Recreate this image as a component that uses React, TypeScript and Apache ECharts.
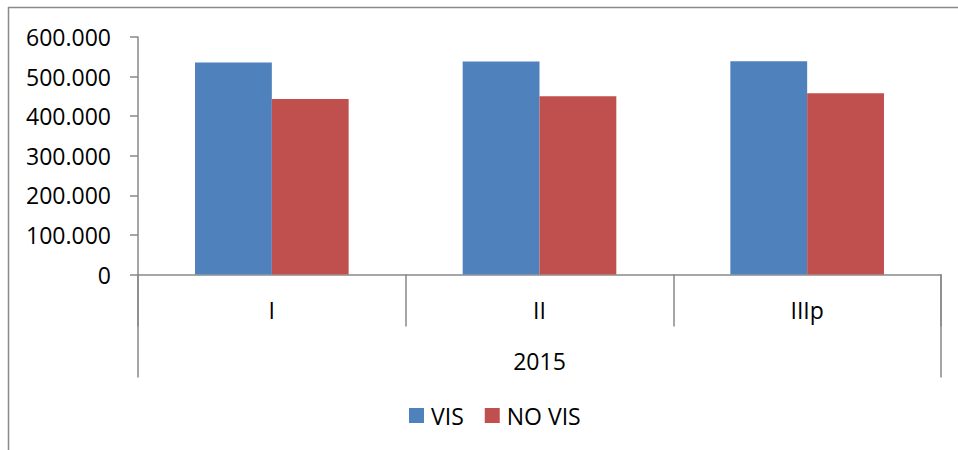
import React, { useEffect, useRef } from "react";
import * as echarts from "echarts";

const quarters = ["I", "II", "IIIp"];
const years = ["2015"];
const seriesNames = ["VIS", "NO VIS"];
const visValues = [535400, 537900, 538600];
const noVisValues = [443400, 450300, 457800];
const colors = ["#4F81BD", "#C0504D"];

const FONT = "'Open Sans', 'Liberation Sans', sans-serif";
const AXIS_GRAY = "#898989";

function formatThousands(v: number): string {
  if (v === 0) return "0";
  const s = Math.round(v).toString();
  return s.replace(/\B(?=(\d{3})+(?!\d))/g, ".");
}

export default function App() {
  const ref = useRef<HTMLDivElement>(null);
  useEffect(() => {
    if (!ref.current) return;
    const chart = echarts.init(ref.current, undefined, { renderer: "svg" });
    chart.setOption({
      animation: false,
      backgroundColor: "#ffffff",
      textStyle: { fontFamily: FONT },
      grid: { left: 138, right: 17, top: 37, bottom: 175.5, containLabel: false },
      legend: {
        data: seriesNames,
        left: 409,
        top: 404,
        padding: 0,
        itemWidth: 15,
        itemHeight: 15,
        itemGap: 21,
        icon: "rect",
        textStyle: { fontSize: 23, color: "#000", fontFamily: FONT, padding: [0, 0, 0, 2] },
      },
      xAxis: [
        {
          type: "category",
          data: quarters,
          position: "bottom",
          axisLine: { show: true, lineStyle: { color: AXIS_GRAY, width: 1.5 } },
          axisTick: { show: true, interval: 0, length: 52, lineStyle: { color: AXIS_GRAY, width: 1.5 } },
          axisLabel: { fontSize: 23, color: "#000", margin: 24, fontFamily: FONT },
          splitLine: { show: false },
        },
        {
          type: "category",
          data: years,
          position: "bottom",
          axisLine: { show: false },
          axisTick: { show: true, interval: 0, length: 103, lineStyle: { color: AXIS_GRAY, width: 1.5 } },
          axisLabel: { fontSize: 23, color: "#000", margin: 75, fontFamily: FONT },
          splitLine: { show: false },
        },
      ],
      yAxis: {
        type: "value",
        min: 0,
        max: 600000,
        interval: 100000,
        axisLine: { show: true, lineStyle: { color: AXIS_GRAY, width: 1.5 } },
        axisTick: { show: true, length: 8, lineStyle: { color: AXIS_GRAY, width: 1.5 } },
        axisLabel: {
          fontSize: 23,
          color: "#000",
          margin: 27,
          fontFamily: FONT,
          formatter: (v: number) => formatThousands(v),
        },
        splitLine: { show: false },
      },
      series: [
        {
          name: seriesNames[0],
          type: "bar",
          xAxisIndex: 0,
          data: visValues,
          barGap: "0%",
          barCategoryGap: "42.6%",
          itemStyle: { color: colors[0] },
        },
        {
          name: seriesNames[1],
          type: "bar",
          xAxisIndex: 0,
          data: noVisValues,
          barGap: "0%",
          barCategoryGap: "42.6%",
          itemStyle: { color: colors[1] },
        },
      ],
      graphic: [
        {
          type: "line",
          shape: { x1: 8, y1: 7.5, x2: 958, y2: 7.5 },
          style: { stroke: "#8a8a8a", lineWidth: 1.5 },
          silent: true,
        },
        {
          type: "line",
          shape: { x1: 8.5, y1: 7, x2: 8.5, y2: 450 },
          style: { stroke: "#8a8a8a", lineWidth: 1.5 },
          silent: true,
        },
      ],
    });
    return () => chart.dispose();
  }, []);
  return (
    <div
      ref={ref}
      style={{ position: "absolute", left: 0, top: 0, width: 958, height: 450 }}
    />
  );
}
